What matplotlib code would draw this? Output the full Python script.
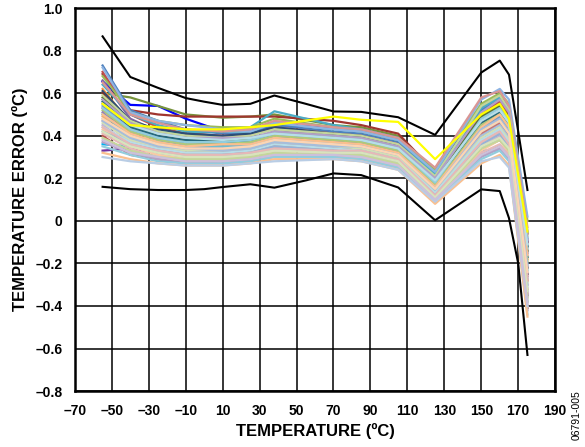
import numpy as np
import matplotlib.pyplot as plt

plt.rcParams['font.family'] = ['Liberation Sans', 'DejaVu Sans']

# temperatures of the measured points (deg C)
temps = [-55, -40, -25, -10, 10, 25, 38, 70, 85, 105, 125, 150, 160, 165, 175]

# bulk of the device curves, one row per device (error in deg C)
band = [
    [0.73, 0.52, 0.47, 0.43, 0.41, 0.41, 0.45, 0.42, 0.41, 0.37, 0.22, 0.52, 0.57, 0.52, -0.05],
    [0.70, 0.50, 0.44, 0.41, 0.40, 0.40, 0.44, 0.41, 0.40, 0.36, 0.20, 0.50, 0.56, 0.50, -0.10],
    [0.68, 0.51, 0.47, 0.45, 0.44, 0.44, 0.48, 0.44, 0.42, 0.38, 0.24, 0.55, 0.60, 0.55, 0.00],
    [0.66, 0.48, 0.42, 0.39, 0.37, 0.37, 0.41, 0.39, 0.38, 0.34, 0.18, 0.47, 0.52, 0.46, -0.15],
    [0.64, 0.50, 0.45, 0.42, 0.42, 0.42, 0.46, 0.43, 0.42, 0.38, 0.22, 0.53, 0.58, 0.53, -0.08],
    [0.62, 0.46, 0.41, 0.38, 0.37, 0.37, 0.40, 0.38, 0.37, 0.33, 0.17, 0.45, 0.50, 0.44, -0.18],
    [0.61, 0.47, 0.43, 0.41, 0.40, 0.41, 0.44, 0.41, 0.40, 0.35, 0.19, 0.48, 0.53, 0.47, -0.12],
    [0.60, 0.44, 0.39, 0.37, 0.36, 0.36, 0.39, 0.37, 0.36, 0.32, 0.15, 0.43, 0.48, 0.42, -0.22],
    [0.58, 0.45, 0.40, 0.38, 0.38, 0.38, 0.42, 0.40, 0.39, 0.35, 0.19, 0.49, 0.54, 0.49, -0.14],
    [0.57, 0.42, 0.38, 0.35, 0.34, 0.35, 0.38, 0.36, 0.35, 0.31, 0.14, 0.41, 0.46, 0.40, -0.25],
    [0.56, 0.44, 0.40, 0.38, 0.37, 0.37, 0.40, 0.38, 0.37, 0.33, 0.17, 0.46, 0.51, 0.45, -0.17],
    [0.55, 0.41, 0.36, 0.34, 0.33, 0.34, 0.37, 0.35, 0.34, 0.30, 0.13, 0.40, 0.45, 0.39, -0.28],
    [0.54, 0.43, 0.39, 0.36, 0.35, 0.36, 0.39, 0.37, 0.36, 0.32, 0.16, 0.44, 0.49, 0.43, -0.20],
    [0.53, 0.40, 0.36, 0.34, 0.34, 0.34, 0.37, 0.35, 0.34, 0.30, 0.14, 0.41, 0.46, 0.40, -0.26],
    [0.52, 0.42, 0.38, 0.36, 0.36, 0.37, 0.40, 0.38, 0.37, 0.33, 0.17, 0.45, 0.50, 0.44, -0.19],
    [0.51, 0.39, 0.35, 0.33, 0.32, 0.33, 0.36, 0.34, 0.33, 0.29, 0.12, 0.38, 0.43, 0.37, -0.30],
    [0.50, 0.40, 0.37, 0.35, 0.35, 0.35, 0.38, 0.36, 0.35, 0.31, 0.15, 0.42, 0.47, 0.41, -0.23],
    [0.49, 0.38, 0.34, 0.32, 0.31, 0.32, 0.35, 0.33, 0.32, 0.28, 0.11, 0.37, 0.42, 0.36, -0.32],
    [0.48, 0.39, 0.36, 0.34, 0.34, 0.35, 0.38, 0.36, 0.35, 0.31, 0.14, 0.40, 0.45, 0.39, -0.27],
    [0.47, 0.37, 0.33, 0.31, 0.30, 0.31, 0.34, 0.32, 0.31, 0.27, 0.11, 0.36, 0.41, 0.35, -0.34],
    [0.46, 0.38, 0.35, 0.33, 0.33, 0.34, 0.37, 0.35, 0.34, 0.30, 0.13, 0.39, 0.44, 0.38, -0.29],
    [0.45, 0.36, 0.32, 0.30, 0.30, 0.31, 0.33, 0.32, 0.31, 0.27, 0.10, 0.35, 0.40, 0.34, -0.36],
    [0.44, 0.37, 0.34, 0.32, 0.32, 0.33, 0.36, 0.34, 0.33, 0.29, 0.13, 0.38, 0.43, 0.37, -0.31],
    [0.43, 0.35, 0.31, 0.29, 0.29, 0.30, 0.32, 0.31, 0.30, 0.26, 0.09, 0.33, 0.38, 0.32, -0.38],
    [0.42, 0.36, 0.33, 0.31, 0.31, 0.32, 0.35, 0.33, 0.32, 0.28, 0.12, 0.36, 0.41, 0.35, -0.33],
    [0.41, 0.34, 0.30, 0.28, 0.28, 0.29, 0.31, 0.30, 0.30, 0.26, 0.09, 0.32, 0.36, 0.31, -0.40],
    [0.39, 0.33, 0.30, 0.29, 0.29, 0.30, 0.32, 0.31, 0.31, 0.27, 0.10, 0.34, 0.38, 0.33, -0.36],
    [0.37, 0.32, 0.29, 0.27, 0.27, 0.28, 0.30, 0.30, 0.29, 0.25, 0.09, 0.30, 0.34, 0.29, -0.42],
    [0.35, 0.31, 0.28, 0.27, 0.27, 0.28, 0.30, 0.30, 0.29, 0.25, 0.10, 0.29, 0.33, 0.28, -0.44],
    [0.32, 0.29, 0.27, 0.26, 0.26, 0.27, 0.29, 0.29, 0.28, 0.24, 0.08, 0.27, 0.31, 0.26, -0.45],
    [0.30, 0.28, 0.27, 0.26, 0.26, 0.27, 0.28, 0.29, 0.28, 0.24, 0.09, 0.28, 0.30, 0.25, -0.40],
    [0.72, 0.51, 0.47, 0.45, 0.43, 0.42, 0.46, 0.43, 0.42, 0.38, 0.23, 0.57, 0.62, 0.57, 0.02],
    [0.65, 0.50, 0.46, 0.43, 0.42, 0.43, 0.47, 0.44, 0.43, 0.39, 0.25, 0.58, 0.61, 0.54, -0.03],
    [0.59, 0.47, 0.42, 0.40, 0.39, 0.40, 0.43, 0.41, 0.40, 0.36, 0.21, 0.54, 0.59, 0.52, -0.07],
    [0.57, 0.46, 0.41, 0.39, 0.39, 0.39, 0.42, 0.40, 0.39, 0.35, 0.20, 0.51, 0.57, 0.51, -0.09],
    [0.53, 0.43, 0.39, 0.37, 0.37, 0.38, 0.41, 0.39, 0.38, 0.34, 0.18, 0.48, 0.53, 0.47, -0.13],
    [0.50, 0.41, 0.37, 0.35, 0.36, 0.36, 0.39, 0.37, 0.36, 0.32, 0.16, 0.44, 0.50, 0.44, -0.16],
    [0.47, 0.39, 0.35, 0.34, 0.33, 0.34, 0.37, 0.35, 0.35, 0.31, 0.15, 0.43, 0.48, 0.42, -0.21],
    [0.44, 0.36, 0.33, 0.31, 0.31, 0.32, 0.34, 0.33, 0.33, 0.29, 0.12, 0.37, 0.42, 0.36, -0.28],
    [0.42, 0.35, 0.32, 0.30, 0.30, 0.31, 0.33, 0.32, 0.32, 0.28, 0.11, 0.35, 0.39, 0.34, -0.33],
    [0.38, 0.32, 0.30, 0.28, 0.28, 0.29, 0.31, 0.31, 0.30, 0.26, 0.10, 0.31, 0.35, 0.30, -0.39],
    [0.55, 0.45, 0.41, 0.39, 0.38, 0.39, 0.41, 0.39, 0.38, 0.34, 0.19, 0.47, 0.52, 0.46, -0.11],
    [0.48, 0.40, 0.36, 0.34, 0.34, 0.35, 0.38, 0.36, 0.35, 0.31, 0.15, 0.42, 0.47, 0.41, -0.24],
]
band_colors = ['#4F81BD', '#C0504D', '#9BBB59', '#8064A2', '#4BACC6', '#F79646',
               '#2C4D75', '#772C2A', '#5F7530', '#4D3B62', '#276A7C', '#B65708',
               '#729ACA', '#CD7371', '#AFC97A', '#9983B5', '#6FBDD1', '#F9AB6B',
               '#A7C0DE', '#DFA7A6', '#D1E0B6', '#C3B7D1', '#B7DDE8', '#FBCAA2',
               '#95B3D7', '#E6B9B8', '#C4D79B', '#B3A2C7', '#93CDDD', '#FAC090',
               '#B9CDE5', '#8EB4E3', '#D99694', '#C3D69B', '#B1A0C7', '#92CDDC',
               '#FABF8F', '#A6BDDB', '#E6B8B7', '#D8E4BC', '#CCC0DA', '#B7DEE8',
               '#FCD5B4']

# a few devices that stand out by colour
blue_dev = [0.655, 0.545, 0.54, 0.48, 0.42, 0.43, 0.45, 0.44, 0.43, 0.39, 0.20, 0.50, 0.55, 0.50, -0.10]
olive_dev = [0.60, 0.58, 0.54, 0.50, 0.485, 0.49, 0.50, 0.45, 0.44, 0.40, 0.22, 0.52, 0.57, 0.52, -0.12]
red_dev = [0.69, 0.52, 0.50, 0.49, 0.49, 0.49, 0.49, 0.47, 0.45, 0.41, 0.23, 0.54, 0.59, 0.54, -0.06]
yellow_dev = [0.55, 0.45, 0.44, 0.43, 0.43, 0.44, 0.45, 0.49, 0.475, 0.465, 0.29, 0.50, 0.55, 0.48, -0.05]
teal_dev = [0.50, 0.44, 0.42, 0.41, 0.42, 0.44, 0.515, 0.45, 0.43, 0.39, 0.21, 0.51, 0.56, 0.50, -0.10]
cyan_dev = [0.36, 0.35, 0.33, 0.31, 0.31, 0.32, 0.35, 0.33, 0.32, 0.28, 0.11, 0.33, 0.33, 0.30, -0.38]
purple_dev = [0.33, 0.34, 0.32, 0.30, 0.30, 0.31, 0.34, 0.32, 0.31, 0.27, 0.10, 0.34, 0.38, 0.33, -0.35]
darkred_dev = [0.40, 0.31, 0.29, 0.27, 0.28, 0.29, 0.31, 0.31, 0.30, 0.26, 0.09, 0.31, 0.35, 0.30, -0.41]

# min / max limit curves
lim_temps = [-55, -40, -25, -10, 0, 10, 25, 38, 55, 70, 85, 105, 125, 150, 160, 165, 170, 175]
upper_lim = [0.867, 0.676, 0.625, 0.577, 0.56, 0.545, 0.55, 0.589, 0.55, 0.514, 0.512, 0.487,
             0.404, 0.697, 0.753, 0.687, 0.42, 0.145]
lower_lim = [0.16, 0.149, 0.145, 0.145, 0.149, 0.159, 0.172, 0.156, 0.19, 0.223, 0.215, 0.157,
             0.003, 0.148, 0.14, 0.013, -0.2, -0.63]

xticks = np.arange(-70, 191, 20)
yticks = np.arange(-0.8, 1.01, 0.2)

fig = plt.figure(figsize=(5.85, 4.47), dpi=100)
ax = fig.add_axes([0.128, 0.125, 0.821, 0.857])

# standouts first so the bulk covers them where they overlap
for row, c in [(cyan_dev, '#00B0F0'), (purple_dev, '#7030A0'), (darkred_dev, '#C0504D'),
               (blue_dev, '#0000FF'), (olive_dev, '#77933C'), (red_dev, '#A0352F'),
               (teal_dev, '#4BACC6')]:
    ax.plot(temps, row, color=c, lw=1.6, zorder=3)

for row, c in zip(band, band_colors):
    ax.plot(temps, row, color=c, lw=1.6, zorder=3)

ax.plot(temps, yellow_dev, color='#FFFF00', lw=1.6, zorder=3)

ax.plot(lim_temps, upper_lim, color='black', lw=1.5, zorder=4)
ax.plot(lim_temps, lower_lim, color='black', lw=1.5, zorder=4)

ax.set_xlim(-70, 190)
ax.set_ylim(-0.8, 1.0)
ax.set_xticks(xticks)
ax.set_yticks(yticks)
ax.set_xticklabels([f'{v:d}'.replace('-', '\u2013') for v in xticks])
ax.set_yticklabels(['0' if abs(v) < 1e-9 else f'{v:.1f}'.replace('-', '\u2013') for v in yticks])
ax.tick_params(length=0, labelsize=10)
ax.tick_params(axis='x', pad=9)
ax.tick_params(axis='y', pad=9)
for lab in ax.get_xticklabels() + ax.get_yticklabels():
    lab.set_fontweight('bold')
ax.grid(True, color='black', lw=1.1)
ax.set_axisbelow(True)
for s in ax.spines.values():
    s.set_linewidth(1.8)

ax.set_xlabel('TEMPERATURE (ºC)', fontsize=12, fontweight='bold', labelpad=4)
ax.set_ylabel('TEMPERATURE ERROR (ºC)', fontsize=12, fontweight='bold', labelpad=5)

fig.text(0.985, 0.016, '06791-005', rotation=90, fontsize=7.5, ha='center', va='bottom')

fig.savefig('out.png', dpi=100)
